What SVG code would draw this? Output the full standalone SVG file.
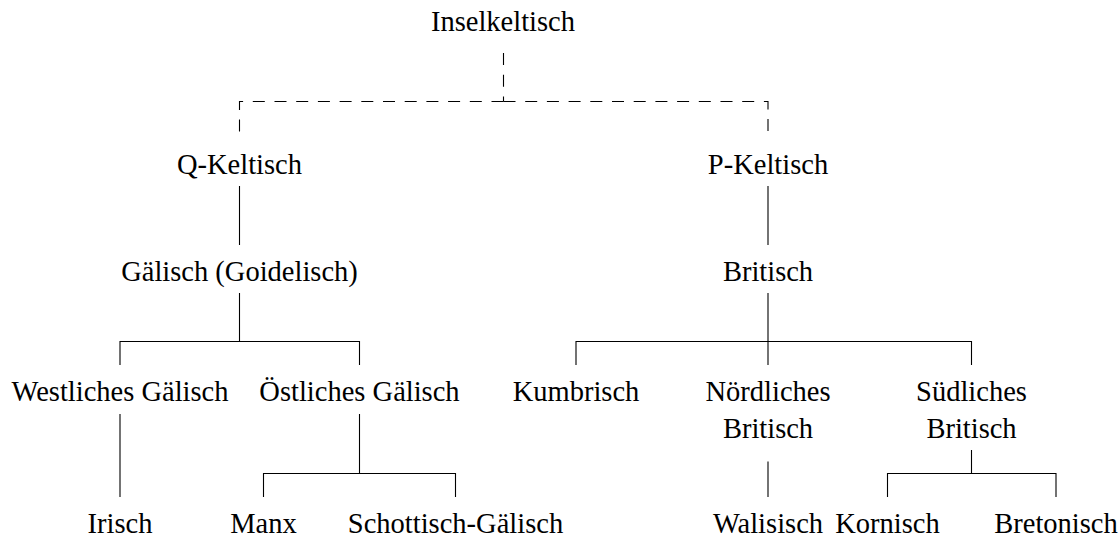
<svg xmlns="http://www.w3.org/2000/svg" width="1120" height="537" viewBox="0 0 1120 537">
<style>
text { font-family: "Liberation Serif", "Times New Roman", serif; font-size: 28.5px; fill: #000; text-anchor: middle; }
.c { fill: none; stroke: #000; stroke-width: 1.1; }
.d { stroke-dasharray: 12 9.7; }
</style>
<rect width="1120" height="537" fill="#fff"/>
<g id="connectors">
  <path class="c d" d="M503.5,53 V101.5"/>
  <path class="c d" d="M503.5,101.5 H239.5 V137"/>
  <path class="c d" d="M503.5,101.5 H768 V137"/>
  <path class="c" d="M239.5,186 V245"/>
  <path class="c" d="M768,186 V245"/>
  <path class="c" d="M239.5,293 V341.5"/>
  <path class="c" d="M120,365 V341.5 H359.5 V365"/>
  <path class="c" d="M768,293 V365"/>
  <path class="c" d="M576,365 V341.5 H971.5 V365"/>
  <path class="c" d="M120,414 V497"/>
  <path class="c" d="M359.5,414 V473.5"/>
  <path class="c" d="M263.5,497 V473.5 H455.5 V497"/>
  <path class="c" d="M768,461.5 V497"/>
  <path class="c" d="M971.5,450 V473.5"/>
  <path class="c" d="M887.5,497 V473.5 H1056 V497"/>
</g>
<g id="n-inselkeltisch"><text x="503" y="31">Inselkeltisch</text></g>
<g id="n-q-keltisch"><text x="239.5" y="174">Q-Keltisch</text></g>
<g id="n-p-keltisch"><text x="768" y="174">P-Keltisch</text></g>
<g id="n-gaelisch"><text x="239.5" y="281">Gälisch (Goidelisch)</text></g>
<g id="n-britisch"><text x="768" y="281">Britisch</text></g>
<g id="n-westliches"><text x="120" y="401">Westliches Gälisch</text></g>
<g id="n-oestliches"><text x="359.5" y="401">Östliches Gälisch</text></g>
<g id="n-kumbrisch"><text x="576" y="401">Kumbrisch</text></g>
<g id="n-noerdliches"><text x="768" y="401">Nördliches</text><text x="768" y="437.5">Britisch</text></g>
<g id="n-suedliches"><text x="971.5" y="401">Südliches</text><text x="971.5" y="437.5">Britisch</text></g>
<g id="n-irisch"><text x="120" y="533">Irisch</text></g>
<g id="n-manx"><text x="263.5" y="533">Manx</text></g>
<g id="n-schottisch"><text x="455.5" y="533">Schottisch-Gälisch</text></g>
<g id="n-walisisch"><text x="768" y="533">Walisisch</text></g>
<g id="n-kornisch"><text x="887.5" y="533">Kornisch</text></g>
<g id="n-bretonisch"><text x="1056" y="533">Bretonisch</text></g>
</svg>
